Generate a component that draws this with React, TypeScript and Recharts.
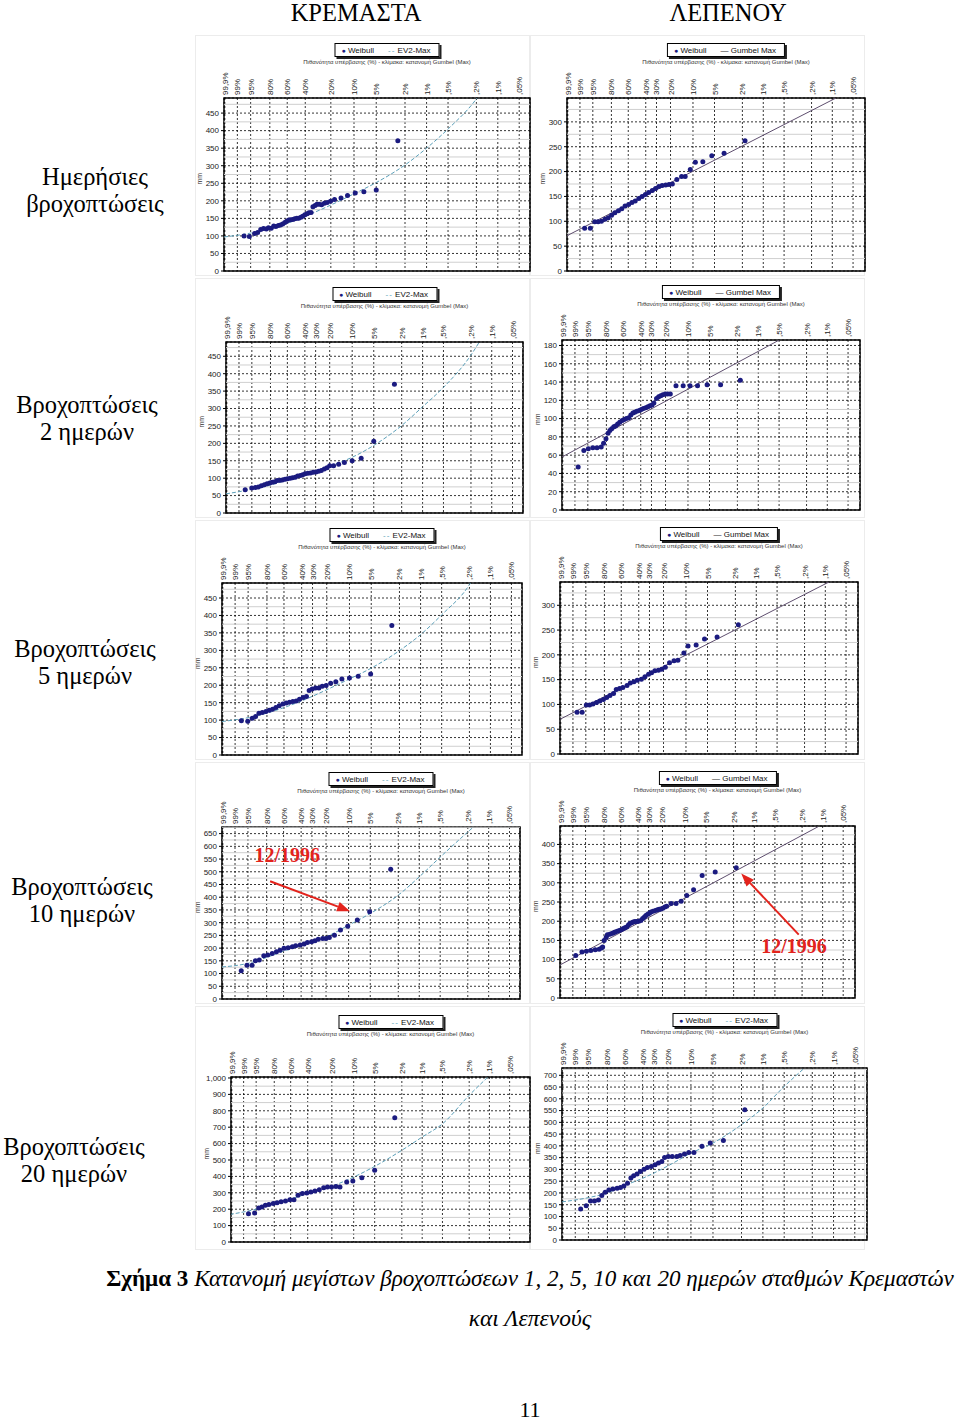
import React from "react";
import {
  CartesianGrid,
  ComposedChart,
  Line,
  ReferenceArea,
  ReferenceDot,
  ReferenceLine,
  Scatter,
  XAxis,
  YAxis,
} from "recharts";

type Pt = [number, number];

// exceedance probability axis (top), plotted on the Gumbel reduced variate
const probPercents = [99.9, 99, 95, 80, 60, 40, 30, 20, 10, 5, 2, 1, 0.5, 0.2, 0.1, 0.05];
const probLabels = ["99,9%", "99%", "95%", "80%", "60%", "40%", "30%", "20%", "10%", "5%", "2%", "1%", ",5%", ",2%", ",1%", ",05%"];

const columnTitles = ["ΚΡΕΜΑΣΤΑ", "ΛΕΠΕΝΟΥ"];
const rowTitles = [
  ["Ημερήσιες", "βροχοπτώσεις"],
  ["Βροχοπτώσεις", "2 ημερών"],
  ["Βροχοπτώσεις", "5 ημερών"],
  ["Βροχοπτώσεις", "10 ημερών"],
  ["Βροχοπτώσεις", "20 ημερών"],
];

// points: [reduced variate, mm]
const kremDaily: Pt[] = [[-1.31,100],[-1.14,98],[-0.97,107],[-0.87,110],[-0.77,118],[-0.68,121],[-0.59,120],[-0.52,123],[-0.43,122],[-0.35,128],[-0.28,127],[-0.2,130],[-0.13,131],[-0.06,134],[0.01,138],[0.07,142],[0.14,145],[0.2,146],[0.27,147],[0.33,149],[0.4,150],[0.46,150],[0.53,153],[0.59,156],[0.66,160],[0.73,163],[0.79,166],[0.86,167],[0.92,183],[0.99,187],[1.05,190],[1.12,190],[1.2,189],[1.29,193],[1.38,195],[1.49,199],[1.62,204],[1.83,208],[2.04,215],[2.29,222],[2.57,226],[2.97,231],[3.67,371]];
const kremDailyFit: Pt[] = [[-1.96,97],[-1.1,108],[-0.48,121],[0.09,136],[0.67,156],[1.5,188],[2.25,220],[2.97,252],[3.9,302],[4.6,350],[5.3,405],[6.21,490],[6.26,496]];

const lepDaily: Pt[] = [[-1.37,86],[-1.18,86],[-1.03,99],[-0.92,99],[-0.81,100],[-0.69,104],[-0.58,107],[-0.47,112],[-0.36,117],[-0.24,121],[-0.13,125],[-0.02,131],[0.1,134],[0.21,138],[0.32,141],[0.44,146],[0.55,150],[0.66,154],[0.77,158],[0.89,162],[1.0,166],[1.11,170],[1.22,172],[1.34,173],[1.45,174],[1.56,175],[1.71,184],[1.87,190],[1.99,190],[2.16,204],[2.33,219],[2.58,220],[2.88,232],[3.29,237],[3.99,262]];
const lepDailyFit: Pt[] = [[-1.96,71],[7.03,348]];

const krem2d: Pt[] = [[-1.32,67],[-1.1,72],[-0.98,73],[-0.88,75],[-0.78,78],[-0.68,81],[-0.59,84],[-0.5,86],[-0.42,88],[-0.33,90],[-0.25,93],[-0.16,94],[-0.08,95],[0.01,97],[0.09,98],[0.18,100],[0.26,101],[0.35,103],[0.43,106],[0.52,108],[0.6,110],[0.68,113],[0.77,114],[0.86,115],[0.95,117],[1.04,118],[1.13,120],[1.22,122],[1.32,126],[1.41,130],[1.5,136],[1.63,136],[1.8,140],[1.99,145],[2.25,150],[2.55,157],[2.97,206],[3.66,370]];
const krem2dFit: Pt[] = [[-1.96,55],[-1.1,68],[-0.48,80],[0.09,95],[0.67,110],[1.5,135],[2.25,160],[2.97,194],[3.9,251],[4.6,305],[5.3,361],[6.21,453],[6.5,492]];

const lep2d: Pt[] = [[-1.42,47],[-1.23,65],[-1.08,67],[-0.93,68],[-0.79,68],[-0.65,69],[-0.57,73],[-0.49,78],[-0.42,84],[-0.36,87],[-0.3,89],[-0.23,91],[-0.17,92],[-0.1,94],[-0.03,96],[0.05,98],[0.12,99],[0.19,100],[0.27,101],[0.34,104],[0.41,106],[0.47,107],[0.54,108],[0.62,109],[0.69,110],[0.76,111],[0.84,112],[0.91,113],[0.98,114],[1.05,115],[1.11,117],[1.2,122],[1.27,124],[1.34,125],[1.41,126],[1.49,127],[1.57,127],[1.66,127],[1.85,136],[2.09,136],[2.32,136],[2.57,136],[2.89,137],[3.34,137],[4.0,142]];
const lep2dFit: Pt[] = [[-1.96,58],[5.36,187]];

const krem5d: Pt[] = [[-1.32,98],[-1.11,97],[-0.96,105],[-0.85,110],[-0.74,120],[-0.63,122],[-0.51,125],[-0.4,128],[-0.29,131],[-0.18,136],[-0.07,141],[0.05,146],[0.16,149],[0.27,151],[0.38,153],[0.49,155],[0.6,160],[0.72,165],[0.83,168],[0.92,185],[1.02,189],[1.13,192],[1.24,192],[1.35,197],[1.48,199],[1.63,206],[1.8,210],[2.0,218],[2.25,221],[2.54,226],[2.95,232],[3.65,371]];
const krem5dFit: Pt[] = [[-1.96,96],[-1.1,107],[-0.48,120],[0.09,136],[0.67,155],[1.5,187],[2.25,218],[2.97,249],[3.9,299],[4.6,345],[5.3,402],[6.21,488],[6.26,495]];

const lep5d: Pt[] = [[-1.39,84],[-1.22,84],[-1.08,99],[-0.97,99],[-0.86,101],[-0.74,104],[-0.63,107],[-0.51,110],[-0.4,114],[-0.29,118],[-0.17,122],[-0.08,130],[0.03,132],[0.14,134],[0.28,138],[0.39,143],[0.51,146],[0.62,149],[0.76,151],[0.88,156],[1.0,161],[1.1,164],[1.21,168],[1.33,169],[1.44,171],[1.56,175],[1.7,184],[1.85,188],[1.98,189],[2.18,204],[2.32,218],[2.59,220],[2.87,232],[3.29,236],[4.0,261]];
const lep5dFit: Pt[] = [[-1.96,70],[7.03,347]];

const krem10d: Pt[] = [[-1.32,111],[-1.13,133],[-0.96,133],[-0.85,150],[-0.72,153],[-0.57,170],[-0.44,173],[-0.29,179],[-0.15,186],[-0.03,192],[0.1,199],[0.24,201],[0.38,205],[0.49,209],[0.64,212],[0.77,216],[0.88,222],[1.02,225],[1.13,229],[1.24,235],[1.39,238],[1.5,238],[1.61,242],[1.78,251],[1.98,271],[2.22,286],[2.54,310],[2.95,343],[3.65,510]];
const krem10dFit: Pt[] = [[-1.96,126],[-1.1,140],[-0.48,163],[0.09,188],[0.67,210],[1.5,244],[2.25,290],[2.97,336],[3.9,408],[4.6,480],[5.3,558],[6.21,656],[6.42,678]];

const lep10d: Pt[] = [[-1.43,111],[-1.22,120],[-1.07,122],[-0.92,124],[-0.77,126],[-0.64,127],[-0.56,130],[-0.52,133],[-0.47,150],[-0.4,158],[-0.36,165],[-0.28,166],[-0.21,168],[-0.15,170],[-0.1,172],[-0.03,174],[0.04,176],[0.11,178],[0.18,181],[0.23,183],[0.29,185],[0.35,190],[0.4,194],[0.46,196],[0.51,198],[0.57,199],[0.63,199],[0.7,200],[0.77,202],[0.83,207],[0.89,211],[0.94,215],[1.0,218],[1.06,221],[1.11,224],[1.18,226],[1.26,228],[1.33,230],[1.39,231],[1.45,232],[1.51,234],[1.58,237],[1.64,239],[1.79,246],[1.96,246],[2.13,252],[2.32,267],[2.55,282],[2.84,319],[3.28,328],[3.99,339]];
const lep10dFit: Pt[] = [[-1.96,86],[6.75,446]];

const krem20d: Pt[] = [[-1.36,173],[-1.15,177],[-1.01,207],[-0.9,213],[-0.78,224],[-0.66,228],[-0.51,234],[-0.38,240],[-0.24,246],[-0.09,250],[0.06,258],[0.2,258],[0.34,285],[0.49,295],[0.64,299],[0.78,305],[0.92,311],[1.07,319],[1.22,331],[1.35,335],[1.49,335],[1.64,339],[1.78,335],[2.01,366],[2.22,372],[2.53,392],[2.97,437],[3.66,758]];
const krem20dFit: Pt[] = [[-2.0,168],[-1.1,200],[-0.48,232],[0.09,262],[0.67,295],[1.5,340],[2.25,396],[2.97,461],[3.9,559],[4.6,640],[5.3,721],[6.21,894],[6.85,1005]];

const lep20d: Pt[] = [[-1.35,132],[-1.17,146],[-1.03,166],[-0.9,166],[-0.77,170],[-0.66,189],[-0.55,203],[-0.43,213],[-0.3,217],[-0.16,220],[-0.05,223],[0.06,230],[0.18,241],[0.29,263],[0.38,273],[0.49,280],[0.6,291],[0.72,301],[0.83,308],[0.96,312],[1.08,320],[1.19,327],[1.3,334],[1.39,351],[1.51,355],[1.64,355],[1.79,355],[1.9,359],[2.04,366],[2.18,372],[2.35,372],[2.61,398],[2.88,412],[3.31,423],[4.01,554]];
const lep20dFit: Pt[] = [[-1.96,162],[-1.1,180],[-0.48,200],[0.09,232],[0.67,262],[1.5,315],[2.25,369],[2.97,412],[3.9,490],[4.6,561],[5.3,653],[5.96,731]];

const noteLabel = "12/1996";

const gumbel = (p: number) => -Math.log(-Math.log(1 - p / 100));
const SANS = '"Liberation Sans", Arial, sans-serif';
const SERIF = '"Liberation Serif", "Times New Roman", serif';
const NAVY = "#1b1b80";
const RED = "#e3231c";
const X_MIN = -1.96;

type Note = { text: Pt; from: Pt; to: Pt };
type PanelDef = {
  plot: { l: number; t: number; w: number; h: number };
  xMax: number;
  yMax: number;
  yStep: number;
  points: Pt[];
  fit: Pt[];
  fitKind: "ev2" | "gumbel";
  skip30?: boolean;
  legendTop?: number;
  note?: Note;
};

const panels: PanelDef[] = [
  { plot: { l: 224, t: 98, w: 306, h: 173 }, xMax: 7.95, yMax: 493, yStep: 50, points: kremDaily, fit: kremDailyFit, fitKind: "ev2", skip30: true },
  { plot: { l: 567, t: 98, w: 298, h: 173 }, xMax: 8.0, yMax: 348, yStep: 50, points: lepDaily, fit: lepDailyFit, fitKind: "gumbel" },
  { plot: { l: 226, t: 342, w: 297, h: 171 }, xMax: 7.95, yMax: 491, yStep: 50, points: krem2d, fit: krem2dFit, fitKind: "ev2" },
  { plot: { l: 562, t: 340, w: 298, h: 170 }, xMax: 8.0, yMax: 186, yStep: 20, points: lep2d, fit: lep2dFit, fitKind: "gumbel" },
  { plot: { l: 222, t: 583, w: 300, h: 172 }, xMax: 7.95, yMax: 493, yStep: 50, points: krem5d, fit: krem5dFit, fitKind: "ev2" },
  { plot: { l: 560, t: 582, w: 298, h: 172 }, xMax: 8.0, yMax: 347, yStep: 50, points: lep5d, fit: lep5dFit, fitKind: "gumbel" },
  { plot: { l: 222, t: 827, w: 298, h: 172 }, xMax: 7.95, yMax: 676, yStep: 50, points: krem10d, fit: krem10dFit, fitKind: "ev2",
    note: { text: [0.21, 565], from: [-0.36, 463], to: [2.3, 345] } },
  { plot: { l: 560, t: 826, w: 295, h: 172 }, xMax: 8.0, yMax: 448, yStep: 50, points: lep10d, fit: lep10dFit, fitKind: "gumbel",
    note: { text: [5.94, 136], from: [6.1, 165], to: [4.16, 324] } },
  { plot: { l: 231, t: 1077, w: 299, h: 165 }, xMax: 8.3, yMax: 1006, yStep: 100, points: krem20d, fit: krem20dFit, fitKind: "ev2", skip30: true, legendTop: 1015 },
  { plot: { l: 562, t: 1068, w: 305, h: 172 }, xMax: 8.0, yMax: 731, yStep: 50, points: lep20d, fit: lep20dFit, fitKind: "ev2" },
];

const YW = 34;
const XH = 40;
const RP = 4;
const BP = 4;

function ArrowShape(p: any) {
  const { x1, y1, x2, y2 } = p;
  const a = Math.atan2(y2 - y1, x2 - x1);
  const len = 13;
  const half = 5;
  const bx = x2 - len * Math.cos(a);
  const by = y2 - len * Math.sin(a);
  const px = -Math.sin(a) * half;
  const py = Math.cos(a) * half;
  return (
    <g>
      <line x1={x1} y1={y1} x2={bx} y2={by} stroke={RED} strokeWidth={2} />
      <polygon points={`${x2},${y2} ${bx + px},${by + py} ${bx - px},${by - py}`} fill={RED} />
    </g>
  );
}

function Panel({ def }: { def: PanelDef }) {
  const { plot, xMax, yMax, yStep } = def;
  const idx = probPercents.map((_, i) => i).filter((i) => !(def.skip30 && probPercents[i] === 30));
  const xTicks = idx.map((i) => gumbel(probPercents[i]));
  const labelOf = new Map(idx.map((i) => [gumbel(probPercents[i]).toFixed(4), probLabels[i]]));
  const yTicks: number[] = [];
  for (let v = 0; v <= yMax + 0.01; v += yStep) yTicks.push(v);
  const minor = yTicks.map((v) => v + yStep / 2).filter((v) => v < yMax);
  const pts = def.points.map(([x, y]) => ({ x, y }));
  const fit = def.fit.map(([x, y]) => ({ x, y }));
  const legendTop = def.legendTop ?? plot.t - 55;
  const cx = plot.l + plot.w / 2 + 10;

  const renderTick = (p: any) => {
    const label = labelOf.get(Number(p.payload.value).toFixed(4)) ?? "";
    return (
      <text x={p.x} y={p.y} transform={`rotate(-90 ${p.x} ${p.y})`} textAnchor="start" dy={3} fontSize={8} fill="#222" fontFamily={SANS}>
        {label}
      </text>
    );
  };

  return (
    <>
      <div
        style={{
          position: "absolute",
          left: cx,
          top: legendTop,
          transform: "translateX(-50%)",
          height: 12,
          background: "#fff",
          border: "1px solid #000",
          boxShadow: "2px 2px 0 #222",
          display: "flex",
          alignItems: "center",
          gap: 14,
          padding: "0 8px 0 6px",
          fontSize: 8,
          fontFamily: SANS,
          whiteSpace: "nowrap",
          color: "#111",
        }}
      >
        <span>
          <span style={{ color: NAVY, fontSize: 7 }}>●</span> Weibull
        </span>
        <span>
          {def.fitKind === "ev2" ? (
            <span style={{ color: "#5b9fb8", letterSpacing: 1 }}>--</span>
          ) : (
            <span style={{ color: "#222" }}>—</span>
          )}{" "}
          {def.fitKind === "ev2" ? "EV2-Max" : "Gumbel Max"}
        </span>
      </div>
      <div
        style={{
          position: "absolute",
          left: cx,
          top: legendTop + 16,
          transform: "translateX(-50%)",
          fontSize: 6,
          fontFamily: SANS,
          color: "#333",
          whiteSpace: "nowrap",
        }}
      >
        Πιθανότητα υπέρβασης (%) - κλίμακα: κατανομή Gumbel (Max)
      </div>
      <div style={{ position: "absolute", left: plot.l - YW, top: plot.t - XH }}>
        <ComposedChart
          width={plot.w + YW + RP}
          height={plot.h + XH + BP}
          margin={{ top: 0, right: RP, bottom: BP, left: 0 }}
        >
          <CartesianGrid stroke="#000" strokeDasharray="2 2" strokeWidth={0.8} />
          {minor.map((v) => (
            <ReferenceLine key={v} y={v} stroke="#cfcfcf" strokeWidth={1} />
          ))}
          <XAxis
            type="number"
            dataKey="x"
            orientation="top"
            domain={[X_MIN, xMax]}
            ticks={xTicks}
            interval={0}
            allowDataOverflow
            tickLine={false}
            axisLine={false}
            tickSize={0}
            tickMargin={3}
            height={XH}
            tick={renderTick}
          />
          <YAxis
            type="number"
            domain={[0, yMax]}
            ticks={yTicks}
            interval={0}
            allowDataOverflow
            width={YW}
            axisLine={false}
            tickSize={3}
            tickLine={{ stroke: "#000" }}
            tick={{ fontSize: 8, fill: "#222", fontFamily: SANS }}
            tickFormatter={(v: number) => (v >= 1000 ? "1,000" : String(v))}
            label={{ value: "mm", angle: -90, position: "insideLeft", offset: 10, fontSize: 7, fill: "#333", fontFamily: SANS }}
          />
          <ReferenceArea x1={X_MIN} x2={xMax} y1={0} y2={yMax} fill="none" fillOpacity={0} stroke="#000" strokeWidth={1.5} />
          <Line
            data={fit}
            dataKey="y"
            type="monotone"
            dot={false}
            activeDot={false}
            stroke={def.fitKind === "ev2" ? "#5b9fb8" : "#5e4e6e"}
            strokeWidth={1}
            strokeDasharray={def.fitKind === "ev2" ? "4 2" : undefined}
            isAnimationActive={false}
          />
          <Scatter
            data={pts}
            dataKey="y"
            isAnimationActive={false}
            shape={(p: any) => <circle cx={p.cx} cy={p.cy} r={2.5} fill={NAVY} />}
          />
          {def.note && (
            <ReferenceLine
              segment={[
                { x: def.note.from[0], y: def.note.from[1] },
                { x: def.note.to[0], y: def.note.to[1] },
              ]}
              shape={ArrowShape}
            />
          )}
          {def.note && (
            <ReferenceDot
              x={def.note.text[0]}
              y={def.note.text[1]}
              r={0}
              shape={(p: any) => (
                <text x={p.cx} y={p.cy} textAnchor="middle" dominantBaseline="central" fontFamily={SERIF} fontWeight="bold" fontSize={20} fill={RED}>
                  {noteLabel}
                </text>
              )}
            />
          )}
        </ComposedChart>
      </div>
    </>
  );
}

const rowLabelPos = [
  { x: 95, y: 176 },
  { x: 87, y: 404 },
  { x: 85, y: 648 },
  { x: 82, y: 886 },
  { x: 74, y: 1146 },
];

const frames = [
  [35, 276],
  [278, 518],
  [520, 760],
  [762, 1004],
  [1006, 1250],
];

export default function App() {
  return (
    <div
      style={{
        position: "absolute",
        left: 0,
        top: 0,
        width: 960,
        height: 1423,
        background: "#fff",
        fontFamily: SERIF,
        overflow: "hidden",
      }}
    >
      {frames.map(([t, b], r) =>
        [195, 530].map((l, c) => (
          <div
            key={`${r}-${c}`}
            style={{ position: "absolute", left: l, top: t, width: 335, height: b - t, border: "1px solid #ececec", boxSizing: "border-box" }}
          />
        ))
      )}
      {columnTitles.map((t, i) => (
        <div
          key={t}
          style={{ position: "absolute", left: (i === 0 ? 356 : 728) - 100, width: 200, top: 0, lineHeight: "26px", textAlign: "center", fontSize: 24.5 }}
        >
          {t}
        </div>
      ))}
      {rowTitles.map((lines, i) => (
        <div
          key={i}
          style={{
            position: "absolute",
            left: rowLabelPos[i].x - 100,
            width: 200,
            top: rowLabelPos[i].y - 13.5,
            lineHeight: "27px",
            textAlign: "center",
            fontSize: 24.5,
          }}
        >
          {lines[0]}
          <br />
          {lines[1]}
        </div>
      ))}
      {panels.map((p, i) => (
        <Panel key={i} def={p} />
      ))}
      <div style={{ position: "absolute", left: 0, width: 1060, top: 1264, lineHeight: "28px", textAlign: "center", fontSize: 23.1, whiteSpace: "nowrap" }}>
        <b>Σχήμα 3</b> <i>Κατανομή μεγίστων βροχοπτώσεων 1, 2, 5, 10 και 20 ημερών σταθμών Κρεμαστών</i>
      </div>
      <div style={{ position: "absolute", left: 430, width: 200, top: 1304, lineHeight: "28px", textAlign: "center", fontSize: 23.5 }}>
        <i>και Λεπενούς</i>
      </div>
      <div style={{ position: "absolute", left: 430, width: 200, top: 1399, lineHeight: "22px", textAlign: "center", fontSize: 22 }}>
        11
      </div>
    </div>
  );
}
